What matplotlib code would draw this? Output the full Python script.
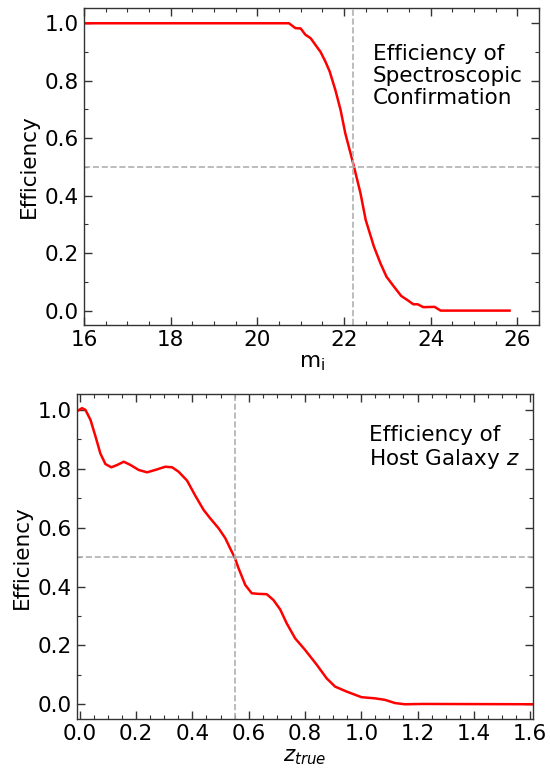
import numpy as np
import matplotlib
matplotlib.use("Agg")
import matplotlib.pyplot as plt
from matplotlib.ticker import MultipleLocator

# Top panel: efficiency vs m_i
mag = [16.0, 20.73, 20.88, 21.0, 21.11, 21.23, 21.34, 21.46, 21.57, 21.67, 21.80, 21.92,
       22.03, 22.15, 22.23, 22.38, 22.50, 22.69, 22.84, 22.98, 23.15, 23.32, 23.46,
       23.60, 23.70, 23.83, 24.09, 24.23, 25.82]
eff_mag = [1.0, 1.0, 0.983, 0.982, 0.96, 0.948, 0.925, 0.90, 0.867, 0.832, 0.768, 0.699,
           0.617, 0.548, 0.501, 0.409, 0.316, 0.223, 0.165, 0.118, 0.084, 0.051, 0.037,
           0.022, 0.022, 0.012, 0.013, 0.0, 0.0]
mag_cut = 22.2

# Bottom panel: efficiency vs z_true
z = [-0.006, 0.008, 0.02, 0.038, 0.056, 0.073, 0.091, 0.112, 0.133, 0.156, 0.18, 0.209,
     0.239, 0.268, 0.304, 0.328, 0.351, 0.381, 0.41, 0.44, 0.463, 0.493, 0.517, 0.534,
     0.55, 0.564, 0.588, 0.611, 0.635, 0.664, 0.688, 0.712, 0.735, 0.765, 0.80, 0.842,
     0.877, 0.907, 0.948, 1.001, 1.049, 1.084, 1.12, 1.155, 1.22, 1.62]
eff_z = [0.998, 1.006, 1.0, 0.966, 0.909, 0.852, 0.816, 0.805, 0.813, 0.824, 0.813, 0.796,
         0.788, 0.796, 0.807, 0.805, 0.790, 0.760, 0.709, 0.66, 0.632, 0.598, 0.564, 0.530,
         0.499, 0.462, 0.405, 0.377, 0.375, 0.374, 0.354, 0.322, 0.275, 0.224, 0.185, 0.134,
         0.088, 0.060, 0.043, 0.024, 0.020, 0.015, 0.004, 0.0, 0.001, 0.0]
z_cut = 0.55

FS = 15.5
fig = plt.figure(figsize=(5.5, 7.73), dpi=100)

def style(ax, xmaj, xmin):
    ax.xaxis.set_major_locator(MultipleLocator(xmaj))
    ax.xaxis.set_minor_locator(MultipleLocator(xmin))
    ax.yaxis.set_major_locator(MultipleLocator(0.2))
    ax.yaxis.set_minor_locator(MultipleLocator(0.1))
    ax.tick_params(which='both', direction='in', top=True, right=True, labelsize=FS)
    ax.tick_params(which='major', length=6, width=1, color='#333333')
    ax.tick_params(which='minor', length=3, width=0.8, color='#333333')
    for s in ax.spines.values():
        s.set_color('#333333')
        s.set_linewidth(1.0)

ax1 = fig.add_axes([0.1527, 0.5796, 0.8273, 0.410])
ax1.plot(mag, eff_mag, color='red', lw=1.8, solid_joinstyle='round')
ax1.axvline(mag_cut, color='#b0b0b0', ls='--', lw=1.2)
ax1.axhline(0.5, color='#b0b0b0', ls='--', lw=1.2)
ax1.set_xlim(16, 26.5)
ax1.set_ylim(-0.05, 1.053)
style(ax1, 2, 0.5)
ax1.set_xlabel(r'm$_{\mathrm{i}}$', fontsize=FS, labelpad=2)
ax1.set_ylabel('Efficiency', fontsize=FS)
ax1.text(0.635, 0.885, 'Efficiency of\nSpectroscopic\nConfirmation', transform=ax1.transAxes,
         fontsize=FS, va='top', ha='left', linespacing=1.1)

ax2 = fig.add_axes([0.14, 0.0699, 0.829, 0.42])
ax2.plot(z, eff_z, color='red', lw=1.8, solid_joinstyle='round')
ax2.axvline(z_cut, color='#b0b0b0', ls='--', lw=1.2)
ax2.axhline(0.5, color='#b0b0b0', ls='--', lw=1.2)
ax2.set_xlim(-0.01, 1.61)
ax2.set_ylim(-0.05, 1.053)
style(ax2, 0.2, 0.05)
ax2.set_xlabel(r'$z_{true}$', fontsize=FS, labelpad=2)
ax2.set_ylabel('Efficiency', fontsize=FS)
ax2.text(0.641, 0.905, 'Efficiency of\nHost Galaxy $z$', transform=ax2.transAxes,
         fontsize=FS, va='top', ha='left', linespacing=1.1)

fig.savefig('out.png', dpi=100)
